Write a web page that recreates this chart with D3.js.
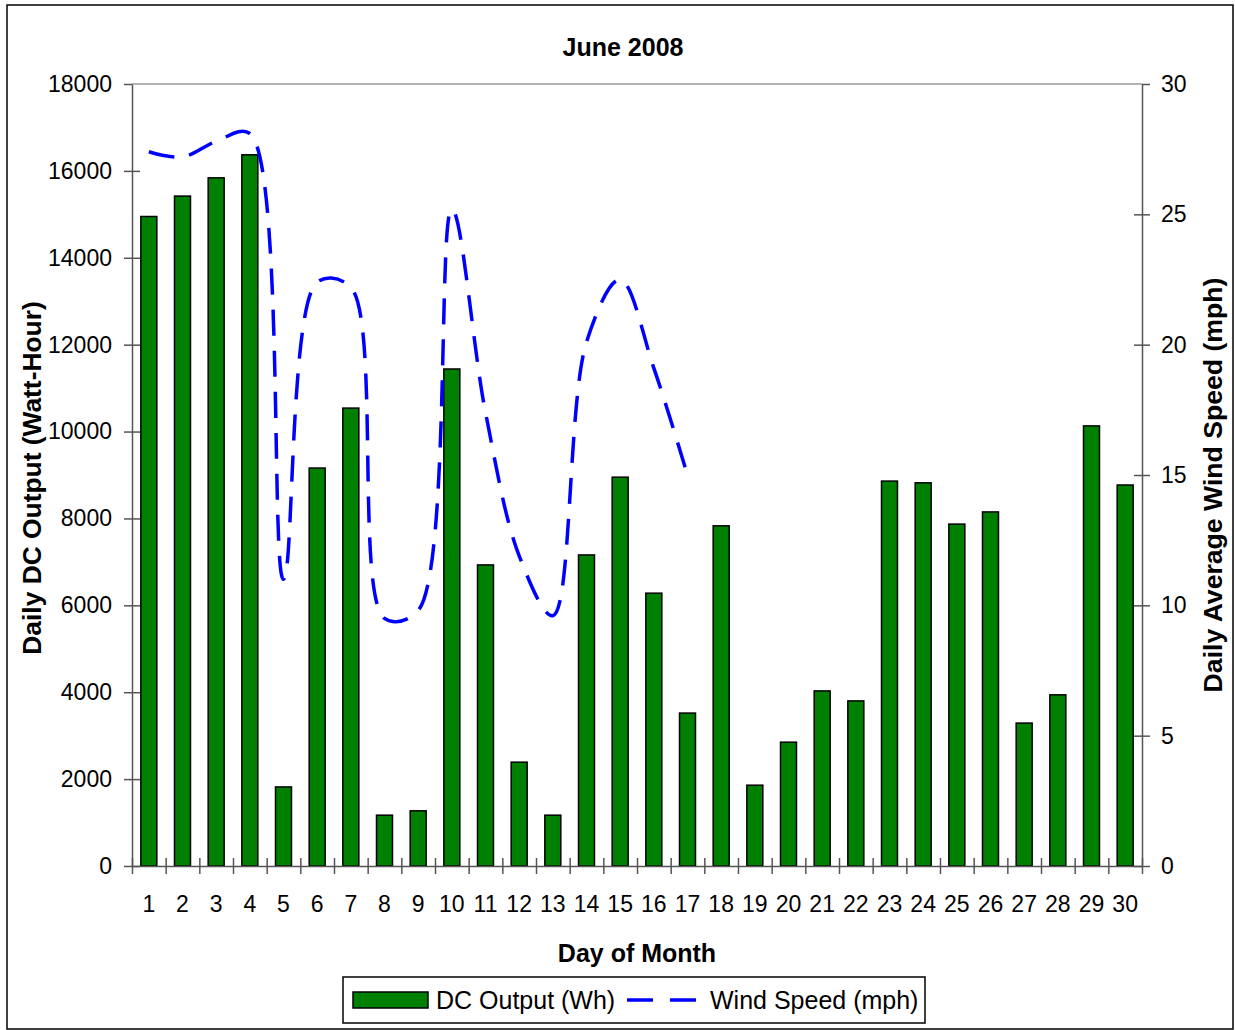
<html>
<head>
  <script src="https://d3js.org/d3.v7.min.js"></script>
  <style>
    body { margin: 0; background: #fff; }
    svg text { font-family: "Liberation Sans", Arial, sans-serif; }
  </style>
</head>
<body>
<div id="chart"></div>
<script>
  // data
  const days = ["1","2","3","4","5","6","7","8","9","10","11","12","13","14","15",
                "16","17","18","19","20","21","22","23","24","25","26","27","28","29","30"];
  const dcOutput = [14950, 15420, 15840, 16370, 1820, 9160, 10540, 1170, 1270, 11440,
                    6930, 2390, 1170, 7160, 8950, 6280, 3520, 7830, 1860, 2850,
                    4030, 3800, 8860, 8820, 7870, 8150, 3290, 3940, 10130, 8770];
  const windSpeed = [27.4, 27.2, 27.8, 28.1, 11.0, 22.4, 22.2, 9.5, 9.8, 25.2,
                     17.4, 11.9, 9.6, 20.1, 22.5, 19.1, 15.0];
  const leftTicks = [0, 2000, 4000, 6000, 8000, 10000, 12000, 14000, 16000, 18000];
  const rightTicks = [0, 5, 10, 15, 20, 25, 30];

  const width = 1235, height = 1030;
  const margin = { top: 84, right: 93, bottom: 164, left: 132 };
  const green = "#008000", blue = "#0000ff", axisColor = "#555";

  const svg = d3.create("svg")
      .attr("width", width)
      .attr("height", height);

  // outer chart border
  svg.append("rect")
      .attr("x", 7).attr("y", 5)
      .attr("width", 1226).attr("height", 1024)
      .attr("fill", "#fff")
      .attr("stroke", "#000")
      .attr("stroke-width", 1.5);

  const x = d3.scaleBand()
      .domain(days)
      .range([margin.left, width - margin.right])
      .paddingInner(0.525)
      .paddingOuter(0.2625);

  // boundaries between days, used for the tick marks
  const xEdge = d3.scaleLinear()
      .domain([0, days.length])
      .range([margin.left, width - margin.right]);

  const y = d3.scaleLinear()
      .domain([0, 18000])
      .range([height - margin.bottom, margin.top]);

  const y2 = d3.scaleLinear()
      .domain([0, 30])
      .range([height - margin.bottom, margin.top]);

  // top edge of plot area
  svg.append("line")
      .attr("x1", margin.left).attr("x2", width - margin.right)
      .attr("y1", margin.top).attr("y2", margin.top)
      .attr("stroke", "#999")
      .attr("stroke-width", 1.5);

  // bars
  svg.append("g")
    .selectAll("rect")
    .data(dcOutput)
    .join("rect")
      .attr("x", (d, i) => x(days[i]))
      .attr("y", d => y(d))
      .attr("width", x.bandwidth())
      .attr("height", d => y(0) - y(d))
      .attr("fill", green)
      .attr("stroke", "#000")
      .attr("stroke-width", 1.5);

  // left axis
  const yAxis = svg.append("g")
      .attr("transform", `translate(${margin.left},0)`)
      .call(d3.axisLeft(y).tickValues(leftTicks).tickFormat(d3.format("d"))
              .tickSize(8).tickPadding(12).tickSizeOuter(0));
  yAxis.selectAll(".tick line").attr("x1", 8);
  yAxis.select(".tick:last-of-type line").attr("x1", 0);

  // right axis
  const y2Axis = svg.append("g")
      .attr("transform", `translate(${width - margin.right},0)`)
      .call(d3.axisRight(y2).tickValues(rightTicks).tickSize(8).tickPadding(11).tickSizeOuter(0));
  y2Axis.selectAll(".tick line").attr("x1", -8);
  y2Axis.select(".tick:last-of-type line").attr("x1", 0);

  // bottom axis: tick marks on day boundaries, labels under each day
  const xTicks = svg.append("g")
      .attr("transform", `translate(0,${height - margin.bottom})`)
      .call(d3.axisBottom(xEdge).ticks(30).tickSize(8).tickFormat("").tickSizeOuter(0));
  xTicks.selectAll(".tick line").attr("y1", -8);

  svg.append("g")
      .attr("transform", `translate(0,${height - margin.bottom})`)
      .call(d3.axisBottom(x).tickSize(0).tickPadding(30))
      .call(g => g.select(".domain").remove());

  svg.selectAll(".domain, .tick line")
      .attr("stroke", axisColor)
      .attr("stroke-width", 1.5);
  svg.selectAll(".tick text")
      .attr("font-size", 23)
      .attr("font-family", "Liberation Sans, Arial, sans-serif")
      .attr("fill", "#000");

  // wind speed line
  const line = d3.line()
      .x((d, i) => x(days[i]) + x.bandwidth() / 2)
      .y(d => y2(d))
      .curve(d3.curveCatmullRom);

  svg.append("path")
      .datum(windSpeed)
      .attr("d", line)
      .attr("fill", "none")
      .attr("stroke", blue)
      .attr("stroke-width", 3.5)
      .attr("stroke-dasharray", "26,15");

  // titles
  svg.append("text")
      .attr("x", 623).attr("y", 56)
      .attr("text-anchor", "middle")
      .attr("font-size", 25).attr("font-weight", "bold")
      .text("June 2008");

  svg.append("text")
      .attr("x", (margin.left + width - margin.right) / 2).attr("y", 962)
      .attr("text-anchor", "middle")
      .attr("font-size", 25).attr("font-weight", "bold")
      .text("Day of Month");

  svg.append("text")
      .attr("transform", "translate(41,478) rotate(-90) scale(1.055,1)")
      .attr("text-anchor", "middle")
      .attr("font-size", 25).attr("font-weight", "bold")
      .text("Daily DC Output (Watt-Hour)");

  svg.append("text")
      .attr("transform", "translate(1222,485) rotate(-90) scale(1.065,1)")
      .attr("text-anchor", "middle")
      .attr("font-size", 25).attr("font-weight", "bold")
      .text("Daily Average Wind Speed (mph)");

  // legend
  const legend = svg.append("g");
  legend.append("rect")
      .attr("x", 343).attr("y", 977)
      .attr("width", 582).attr("height", 46)
      .attr("fill", "#fff")
      .attr("stroke", "#000")
      .attr("stroke-width", 1.5);
  legend.append("rect")
      .attr("x", 353).attr("y", 992)
      .attr("width", 75).attr("height", 16)
      .attr("fill", green)
      .attr("stroke", "#000")
      .attr("stroke-width", 1.5);
  legend.append("text")
      .attr("x", 436).attr("y", 1009)
      .attr("font-size", 25)
      .text("DC Output (Wh)");
  legend.append("line")
      .attr("x1", 627).attr("x2", 696)
      .attr("y1", 1000).attr("y2", 1000)
      .attr("stroke", blue)
      .attr("stroke-width", 3.5)
      .attr("stroke-dasharray", "26,17");
  legend.append("text")
      .attr("x", 710).attr("y", 1009)
      .attr("font-size", 25)
      .text("Wind Speed (mph)");

  document.getElementById("chart").appendChild(svg.node());
</script>
</body>
</html>
